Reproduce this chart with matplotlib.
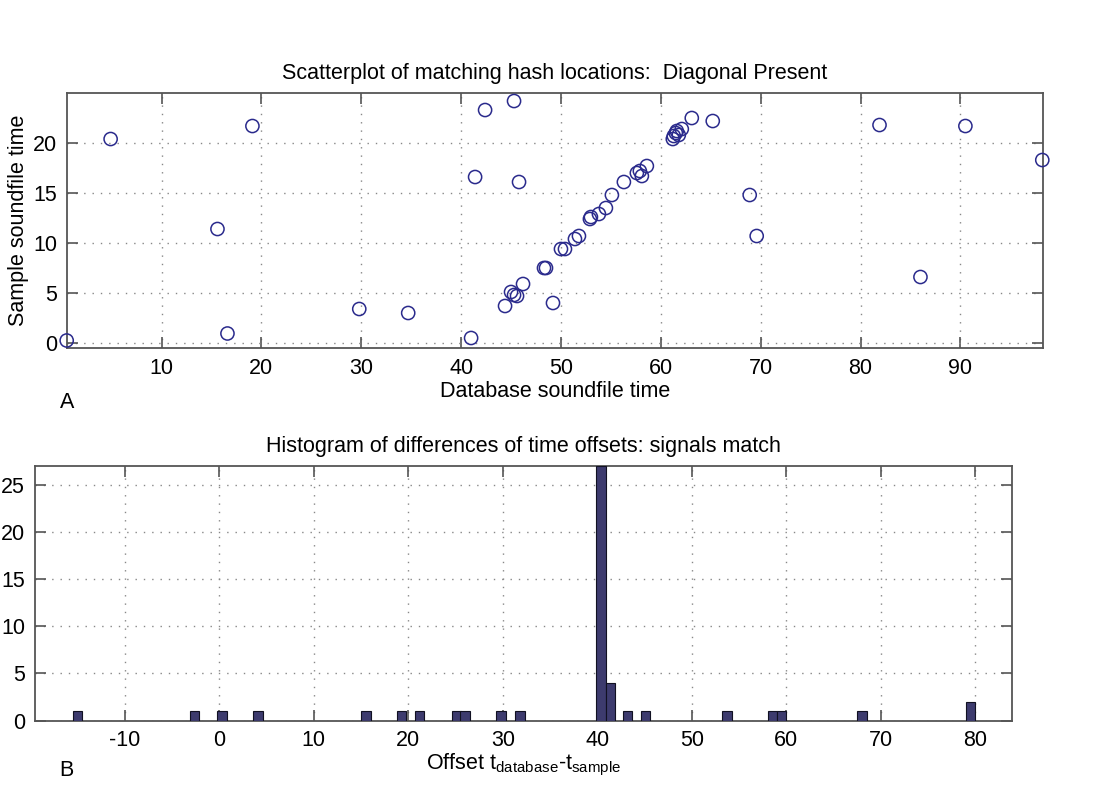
import matplotlib
matplotlib.use("Agg")
import matplotlib.pyplot as plt

plt.rcParams['font.family'] = ['Liberation Sans', 'DejaVu Sans']
plt.rcParams['mathtext.fontset'] = 'custom'
plt.rcParams['mathtext.rm'] = 'Liberation Sans'
plt.rcParams['mathtext.it'] = 'Liberation Sans'
plt.rcParams['axes.unicode_minus'] = False

# scatter: matching hash locations (database time, sample time)
db_time = [0.5, 4.9, 15.6, 16.6, 19.1, 29.8, 34.7, 41.0, 41.4, 42.4, 44.4,
           45.0, 45.3, 45.6, 45.3, 45.8, 46.2, 48.3, 48.5, 49.2, 50.0, 50.4,
           51.4, 51.8, 52.9, 53.0, 53.8, 54.5, 55.1, 56.3, 57.6, 57.9, 58.1,
           58.6, 61.2, 61.3, 61.5, 61.6, 61.8, 62.1, 63.1, 65.2, 68.9, 69.6,
           81.9, 86.0, 90.5, 98.2]
sample_time = [0.25, 20.4, 11.4, 0.95, 21.7, 3.4, 3.0, 0.5, 16.6, 23.3, 3.7,
               5.1, 4.8, 4.7, 24.2, 16.1, 5.9, 7.5, 7.5, 4.0, 9.4, 9.4,
               10.4, 10.7, 12.4, 12.6, 12.9, 13.5, 14.8, 16.1, 17.0, 17.2, 16.7,
               17.7, 20.4, 20.7, 21.0, 21.2, 20.8, 21.4, 22.5, 22.2, 14.8, 10.7,
               21.8, 6.6, 21.7, 18.3]

# histogram of offsets
offset_bins = [-15.0, -2.6, 0.3, 4.1, 15.5, 19.3, 21.2, 25.1, 26.0, 29.8, 31.8,
               40.4, 41.4, 43.2, 45.1, 53.7, 58.5, 59.5, 68.0, 79.5]
offset_counts = [1, 1, 1, 1, 1, 1, 1, 1, 1, 1, 1,
                 27, 4, 1, 1, 1, 1, 1, 1, 2]

fig = plt.figure(figsize=(11.17, 7.85), dpi=100)
ax1 = fig.add_axes([0.0597, 0.5567, 0.8743, 0.3248])
ax2 = fig.add_axes([0.0313, 0.0819, 0.875, 0.3248])

grid_kw = dict(color='#888888', linestyle=(0, (1, 5)), linewidth=1.0)
fs = 15.5

for ax in (ax1, ax2):
    for s in ax.spines.values():
        s.set_color('#555555')
        s.set_linewidth(1.3)
    ax.tick_params(direction='in', length=8, width=1.2, color='#555555',
                   labelsize=fs, top=True, right=True, pad=7)
    ax.grid(True, **grid_kw)
    ax.set_axisbelow(True)

ax1.scatter(db_time, sample_time, s=90, facecolors='none',
            edgecolors='#2a2a8c', linewidths=1.1, clip_on=False, zorder=3)
ax1.set_xlim(0.5, 98.3)
ax1.set_ylim(-0.5, 25)
ax1.set_xticks(range(10, 100, 10))
ax1.set_yticks(range(0, 25, 5))
ax1.set_title('Scatterplot of matching hash locations:  Diagonal Present',
              fontsize=fs, pad=10)
ax1.set_xlabel('Database soundfile time', fontsize=fs, labelpad=2)
ax1.set_ylabel('Sample soundfile time', fontsize=fs, labelpad=3)

ax2.bar(offset_bins, offset_counts, width=1.0, color='#3d3b6e',
        edgecolor='#111122', linewidth=0.8, zorder=3)
ax2.set_xlim(-19.5, 83.9)
ax2.set_ylim(0, 27)
ax2.set_xticks(range(-10, 90, 10))
ax2.set_yticks(range(0, 30, 5))
ax2.set_title('Histogram of differences of time offsets: signals match',
              fontsize=fs, pad=10)
ax2.set_xlabel(r'Offset t$_{\mathrm{database}}$-t$_{\mathrm{sample}}$',
               fontsize=fs, labelpad=0)

fig.text(67 / 1117, 1 - 403 / 785, 'A', fontsize=fs, va='center', ha='center')
fig.text(66 / 1117, 1 - 770 / 785, 'B', fontsize=fs, va='center', ha='center')

fig.savefig('out.png', dpi=100, facecolor='white')
